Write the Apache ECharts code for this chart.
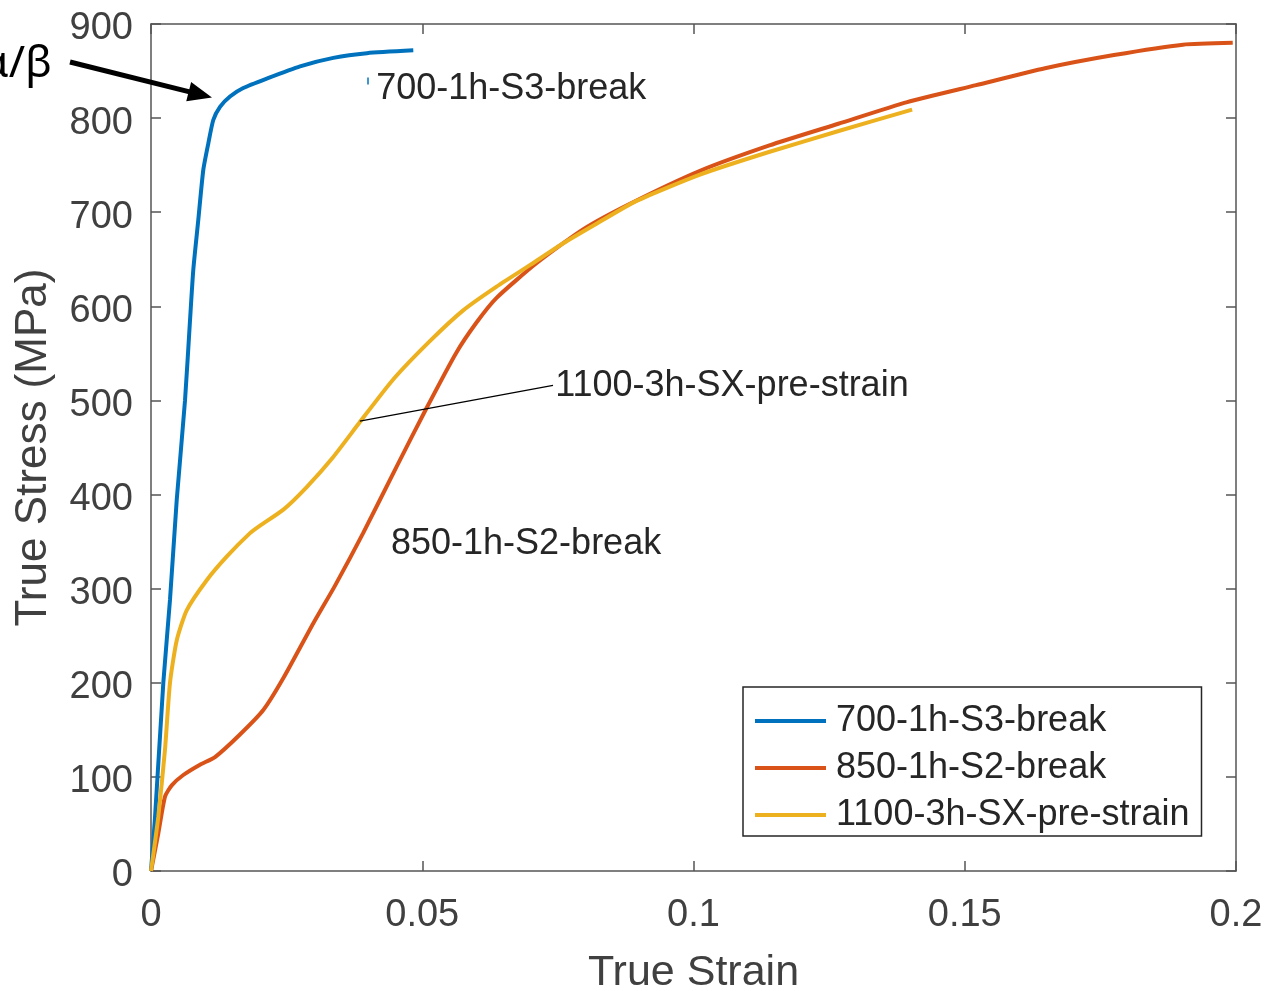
<!DOCTYPE html>
<html>
<head>
<meta charset="utf-8">
<script src="https://cdn.jsdelivr.net/npm/echarts@6/dist/echarts.min.js"></script>
<style>html,body{margin:0;padding:0;background:#fff}#c{width:1268px;height:991px}</style>
</head>
<body>
<div id="c"></div>
<script>
// Series names
const seriesNames = ['700-1h-S3-break', '850-1h-S2-break', '1100-3h-SX-pre-strain'];

// 700-1h-S3-break (true strain, true stress MPa)
const s700Strain = [0, 0.00074, 0.00227, 0.0035, 0.00474, 0.00627, 0.00719, 0.0078, 0.00872, 0.00964, 0.01056, 0.01148, 0.01272, 0.01456, 0.0170, 0.02133, 0.02747, 0.0336, 0.0398, 0.04835];
const s700Stress = [0, 57, 200, 288, 394, 500, 585, 639, 692, 745, 773, 798, 812, 823, 832, 842, 855, 864, 869, 872];

// 850-1h-S2-break
const s850Strain = [0, 0.00135, 0.00258, 0.00382, 0.00595, 0.00903, 0.0118, 0.0164, 0.0207, 0.0244, 0.0299, 0.0339, 0.0391, 0.0453, 0.0508, 0.0562, 0.0599, 0.0637, 0.0711, 0.0797, 0.0883, 0.1012, 0.1140, 0.1267, 0.1394, 0.1521, 0.1648, 0.1775, 0.1902, 0.1994];
const s850Stress = [0, 40, 79, 91, 102, 113, 121, 145, 171, 205, 263, 303, 359, 430, 492, 550, 582, 609, 646, 682, 709, 744, 771, 794, 817, 835, 853, 867, 878, 880];

// 1100-3h-SX-pre-strain
const s1100Strain = [0, 0.00135, 0.00258, 0.0035, 0.00474, 0.00658, 0.01027, 0.01395, 0.01825, 0.0201, 0.0244, 0.0287, 0.0336, 0.0385, 0.0446, 0.0514, 0.0576, 0.0637, 0.0699, 0.0760, 0.0822, 0.0895, 0.1012, 0.1139, 0.1266, 0.1403];
const s1100Stress = [0, 58, 129, 200, 245, 277, 309, 334, 359, 367, 384, 408, 440, 477, 522, 563, 596, 621, 644, 667, 688, 712, 740, 764, 786, 809];

// Axis ticks
const xTicks = {min: 0, max: 0.2, interval: 0.05};
const yTicks = {min: 0, max: 900, interval: 100};

const colors = ['#0072BD', '#D95319', '#EDB120'];
const zip = (a, b) => a.map((v, i) => [v, b[i]]);

const chart = echarts.init(document.getElementById('c'), null, {renderer: 'canvas'});
const FONT = '"Liberation Sans", Arial, sans-serif';
const axisColor = '#555555';
const labelColor = '#404040';

const xAxisBase = {
  type: 'value', min: xTicks.min, max: xTicks.max, interval: xTicks.interval,
  axisLine: {show: true, onZero: false, lineStyle: {color: axisColor, width: 1.5}},
  axisTick: {show: true, inside: true, length: 10, lineStyle: {color: axisColor, width: 1.5}},
  splitLine: {show: false}
};
const yAxisBase = {
  type: 'value', min: yTicks.min, max: yTicks.max, interval: yTicks.interval,
  axisLine: {show: true, onZero: false, lineStyle: {color: axisColor, width: 1.5}},
  axisTick: {show: true, inside: true, length: 10, lineStyle: {color: axisColor, width: 1.5}},
  splitLine: {show: false}
};

const lineSeries = (i, sx, sy, z) => ({
  name: seriesNames[i], type: 'line', data: zip(sx, sy),
  showSymbol: false, symbol: 'none', smooth: 0.2,
  lineStyle: {width: 4, color: colors[i]}, z: z
});

const option = {
  animation: false,
  backgroundColor: '#ffffff',
  color: colors,
  grid: {left: 151, right: 32, top: 24, bottom: 120, containLabel: false, outerBoundsMode: 'none'},
  xAxis: [
    Object.assign({}, xAxisBase, {
      position: 'bottom',
      name: 'True Strain', nameLocation: 'middle', nameGap: 81,
      nameTextStyle: {fontSize: 43, color: labelColor, fontFamily: FONT},
      axisLabel: {show: true, fontSize: 38, color: labelColor, fontFamily: FONT, margin: 26}
    }),
    Object.assign({}, xAxisBase, {position: 'top', axisLabel: {show: false}})
  ],
  yAxis: [
    Object.assign({}, yAxisBase, {
      position: 'left',
      name: 'True Stress (MPa)', nameLocation: 'middle', nameGap: 95,
      nameTextStyle: {fontSize: 44, color: labelColor, fontFamily: FONT},
      axisLabel: {show: true, fontSize: 38, color: labelColor, fontFamily: FONT, margin: 18,
        formatter: '{a|{value}}', rich: {a: {fontSize: 38, color: labelColor, fontFamily: FONT, padding: [10, 0, 0, 0]}}}
    }),
    Object.assign({}, yAxisBase, {position: 'right', axisLabel: {show: false}})
  ],
  legend: {
    orient: 'vertical', left: 743, top: 687,
    data: seriesNames,
    icon: 'rect', itemWidth: 71, itemHeight: 4, itemGap: 11,
    padding: [16, 12, 3, 12],
    borderColor: '#262626', borderWidth: 1.5, backgroundColor: '#ffffff',
    textStyle: {fontSize: 36, color: '#262626', fontFamily: FONT, padding: [0, 0, 0, 5]}
  },
  series: [
    lineSeries(0, s700Strain, s700Stress, 3),
    lineSeries(1, s850Strain, s850Stress, 2),
    lineSeries(2, s1100Strain, s1100Stress, 4)
  ]
};
chart.setOption(option);

// Annotations anchored in data coordinates
const P = (x, y) => chart.convertToPixel({gridIndex: 0}, [x, y]);
const t700 = P(0.0415, 831);
const t1100 = P(0.0745, 515.5);
const l1100a = P(0.0385, 478);
const l1100b = P(0.0741, 516);
const t850 = P(0.04424, 347.5);
const tip = P(0.01124, 822);
const start = [70, 62];
const dx = tip[0] - start[0], dy = tip[1] - start[1];
const L = Math.sqrt(dx * dx + dy * dy);
const ux = dx / L, uy = dy / L, nx = -uy, ny = ux;
const headLen = 24, headW = 10;
const bx = tip[0] - ux * headLen, by = tip[1] - uy * headLen;
const tickMark = P(0.04, 840);

const txt = (pos, text) => ({
  type: 'text', x: pos[0], y: pos[1], z: 100,
  style: {text: text, fontSize: 36, fontFamily: FONT, fill: '#262626', textAlign: 'left', textVerticalAlign: 'middle'}
});

chart.setOption({
  graphic: [
    txt(t700, '700-1h-S3-break'),
    txt(t1100, '1100-3h-SX-pre-strain'),
    txt(t850, '850-1h-S2-break'),
    {type: 'line', z: 100, shape: {x1: l1100a[0], y1: l1100a[1], x2: l1100b[0], y2: l1100b[1]}, style: {stroke: '#000', lineWidth: 1.2}},
    {type: 'line', z: 100, shape: {x1: tickMark[0], y1: tickMark[1] - 3, x2: tickMark[0], y2: tickMark[1] + 4}, style: {stroke: colors[0], lineWidth: 1.5}},
    {type: 'line', z: 100, shape: {x1: start[0], y1: start[1], x2: bx + ux * 2, y2: by + uy * 2}, style: {stroke: '#000', lineWidth: 5}},
    {type: 'polygon', z: 100, shape: {points: [[tip[0], tip[1]], [bx + nx * headW, by + ny * headW], [bx - nx * headW, by - ny * headW]]}, style: {fill: '#000'}},
    {type: 'text', x: 52, y: 64, z: 100, style: {text: 'α/β', fontSize: 44, fontFamily: '"Noto Sans", "DejaVu Sans", sans-serif', fill: '#000', textAlign: 'right', textVerticalAlign: 'middle'}}
  ]
});
</script>
</body>
</html>
